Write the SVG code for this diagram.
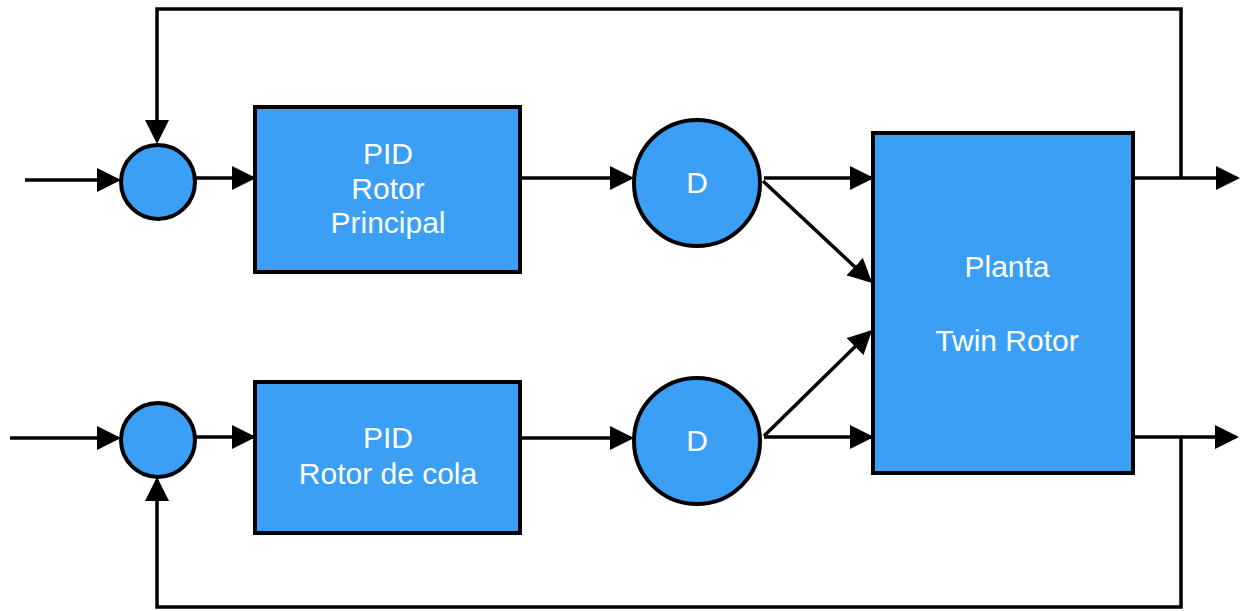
<svg xmlns="http://www.w3.org/2000/svg" width="1245" height="611" viewBox="0 0 1245 611">
  <style>
    .blk { fill: #3a9ff5; stroke: #000; stroke-width: 4; }
    .lbl { fill: #fff; font-family: "Liberation Sans", Arial, sans-serif; font-size: 30px; text-anchor: middle; }
    .wire { fill: none; stroke: #000; stroke-width: 3.5; }
    .arr { marker-end: url(#head); }
  </style>
  <defs>
    <marker id="head" markerUnits="userSpaceOnUse" markerWidth="26" markerHeight="24" refX="21" refY="12" orient="auto">
      <path d="M0,0 L24,12 L0,24 Z" fill="#000"/>
    </marker>
  </defs>

  <g id="connectors">
    <!-- main rotor loop -->
    <line class="wire arr" x1="25" y1="180" x2="118" y2="180"/>
    <path class="wire arr" d="M1181,178 V9 H157 V141"/>
    <line class="wire arr" x1="195" y1="178" x2="253" y2="178"/>
    <line class="wire arr" x1="520" y1="178" x2="631" y2="178"/>
    <line class="wire arr" x1="764" y1="178" x2="871" y2="178"/>
    <line class="wire arr" x1="763" y1="181" x2="870" y2="281"/>
    <line class="wire arr" x1="1135" y1="178" x2="1237" y2="178"/>
    <!-- tail rotor loop -->
    <line class="wire arr" x1="10" y1="438" x2="118" y2="438"/>
    <path class="wire arr" d="M1181,437 V607 H157 V480"/>
    <line class="wire arr" x1="195" y1="437" x2="253" y2="437"/>
    <line class="wire arr" x1="520" y1="438" x2="631" y2="438"/>
    <line class="wire arr" x1="764" y1="437" x2="871" y2="437"/>
    <line class="wire arr" x1="764" y1="436" x2="870" y2="332"/>
    <line class="wire arr" x1="1135" y1="437" x2="1236" y2="437"/>
  </g>

  <g id="sum-main">
    <circle class="blk" cx="158" cy="182" r="37"/>
  </g>
  <g id="pid-main">
    <rect class="blk" x="255" y="107" width="265" height="165"/>
    <text class="lbl" x="388" y="164">PID</text>
    <text class="lbl" x="388" y="199">Rotor</text>
    <text class="lbl" x="388" y="233">Principal</text>
  </g>
  <g id="d-main">
    <circle class="blk" cx="697" cy="183" r="63"/>
    <text class="lbl" x="697" y="193" font-size="28">D</text>
  </g>

  <g id="sum-tail">
    <circle class="blk" cx="158" cy="440" r="37"/>
  </g>
  <g id="pid-tail">
    <rect class="blk" x="255" y="382" width="265" height="151"/>
    <text class="lbl" x="388" y="448">PID</text>
    <text class="lbl" x="388" y="484">Rotor de cola</text>
  </g>
  <g id="d-tail">
    <circle class="blk" cx="697" cy="441" r="63"/>
    <text class="lbl" x="697" y="451" font-size="28">D</text>
  </g>

  <g id="planta">
    <rect class="blk" x="873" y="133" width="260" height="340"/>
    <text class="lbl" x="1007" y="277">Planta</text>
    <text class="lbl" x="1007" y="351">Twin Rotor</text>
  </g>
</svg>
